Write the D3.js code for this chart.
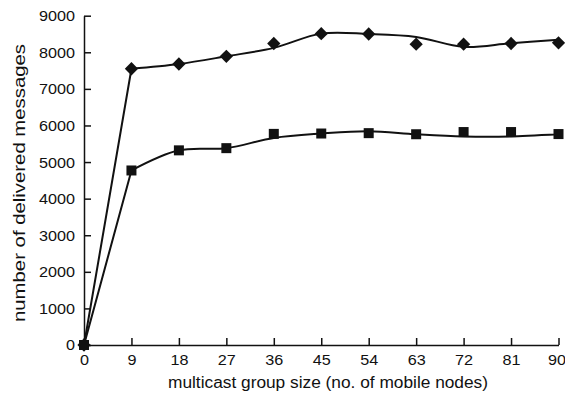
<!DOCTYPE html>
<meta charset="utf-8">
<html>
<head>
<script src="https://cdn.jsdelivr.net/npm/d3@7/dist/d3.min.js"></script>
<style>
  body { margin: 0; background: #fff; }
  text { font-family: "Liberation Sans", Arial, sans-serif; fill: #111; }
</style>
</head>
<body>
<div id="chart"></div>
<script>
// group sizes along the x axis
var groupSizes = [0, 9, 18, 27, 36, 45, 54, 63, 72, 81, 90];
// upper series: markers and its smoothed line
var diamondPoints = [0, 7550, 7680, 7890, 8240, 8510, 8500, 8220, 8220, 8240, 8260];
var diamondCurve  = [0, 7550, 7680, 7890, 8120, 8510, 8500, 8420, 8150, 8250, 8340];
// lower series: markers and its smoothed line
var squarePoints = [0, 4770, 5320, 5380, 5770, 5780, 5790, 5760, 5820, 5820, 5765];
var squareCurve  = [0, 4770, 5320, 5380, 5660, 5780, 5845, 5760, 5700, 5700, 5760];
var yTicks = [0, 1000, 2000, 3000, 4000, 5000, 6000, 7000, 8000, 9000];

var width = 565, height = 398;
var svg = d3.select("#chart").append("svg")
    .attr("width", width)
    .attr("height", height);

var x = d3.scaleLinear().domain([0, 90]).range([84, 558.5]);
var y = d3.scaleLinear().domain([0, 9000]).range([345, 15.7]);

// digits in the picture are a little wide, stretch them slightly
function widen(sel) {
  sel.style("font-size", "15.5px")
     .attr("textLength", function (d) { return String(d).length * 9; })
     .attr("lengthAdjust", "spacingAndGlyphs");
}

// x axis, ticks pointing into the plot
var xAxis = svg.append("g")
    .attr("transform", "translate(0," + y(0) + ")")
    .call(d3.axisBottom(x).tickValues(groupSizes).tickSizeInner(-7).tickSizeOuter(0).tickPadding(8));
xAxis.selectAll("text").attr("dy", "0.75em").call(widen);
// keep the last label inside the window
xAxis.selectAll("text").filter(function (d) { return d === 90; }).attr("x", -2);

// y axis
var yAxis = svg.append("g")
    .attr("transform", "translate(" + x(0) + ",0)")
    .call(d3.axisLeft(y).tickValues(yTicks).tickFormat(d3.format("d")).tickSizeInner(-7).tickSizeOuter(0).tickPadding(9));
yAxis.selectAll("text").call(widen);

svg.selectAll(".domain, .tick line").attr("stroke", "#111").attr("stroke-width", 1.5);

// axis titles
svg.append("text")
    .attr("x", 328)
    .attr("y", 388)
    .attr("text-anchor", "middle")
    .attr("textLength", 320)
    .attr("lengthAdjust", "spacingAndGlyphs")
    .style("font-size", "16px")
    .text("multicast group size (no. of mobile nodes)");

svg.append("text")
    .attr("transform", "translate(25,183) rotate(-90)")
    .attr("text-anchor", "middle")
    .attr("textLength", 278)
    .attr("lengthAdjust", "spacingAndGlyphs")
    .style("font-size", "16px")
    .text("number of delivered messages");

// first step is a straight rise, the rest is smoothed
var line = d3.line()
    .x(function (d) { return x(d[0]); })
    .y(function (d) { return y(d[1]); });
var smooth = d3.line()
    .x(function (d) { return x(d[0]); })
    .y(function (d) { return y(d[1]); })
    .curve(d3.curveCatmullRom.alpha(0.5));

[diamondCurve, squareCurve].forEach(function (vals) {
  var pts = vals.map(function (v, i) { return [groupSizes[i], v]; });
  svg.append("path")
      .attr("fill", "none")
      .attr("stroke", "#111")
      .attr("stroke-width", 2)
      .attr("d", line(pts.slice(0, 2)) + smooth(pts.slice(1)));
});

// markers
var diamond = d3.symbol().type(d3.symbolSquare).size(88);
svg.selectAll(".dia")
    .data(diamondPoints)
    .enter().append("path")
    .attr("class", "dia")
    .attr("transform", function (d, i) { return "translate(" + x(groupSizes[i]) + "," + y(d) + ") rotate(45)"; })
    .attr("d", diamond)
    .attr("fill", "#111");

svg.selectAll(".sq")
    .data(squarePoints)
    .enter().append("rect")
    .attr("class", "sq")
    .attr("x", function (d, i) { return x(groupSizes[i]) - 5; })
    .attr("y", function (d) { return y(d) - 5; })
    .attr("width", 10)
    .attr("height", 10)
    .attr("fill", "#111");
</script>
</body>
</html>
